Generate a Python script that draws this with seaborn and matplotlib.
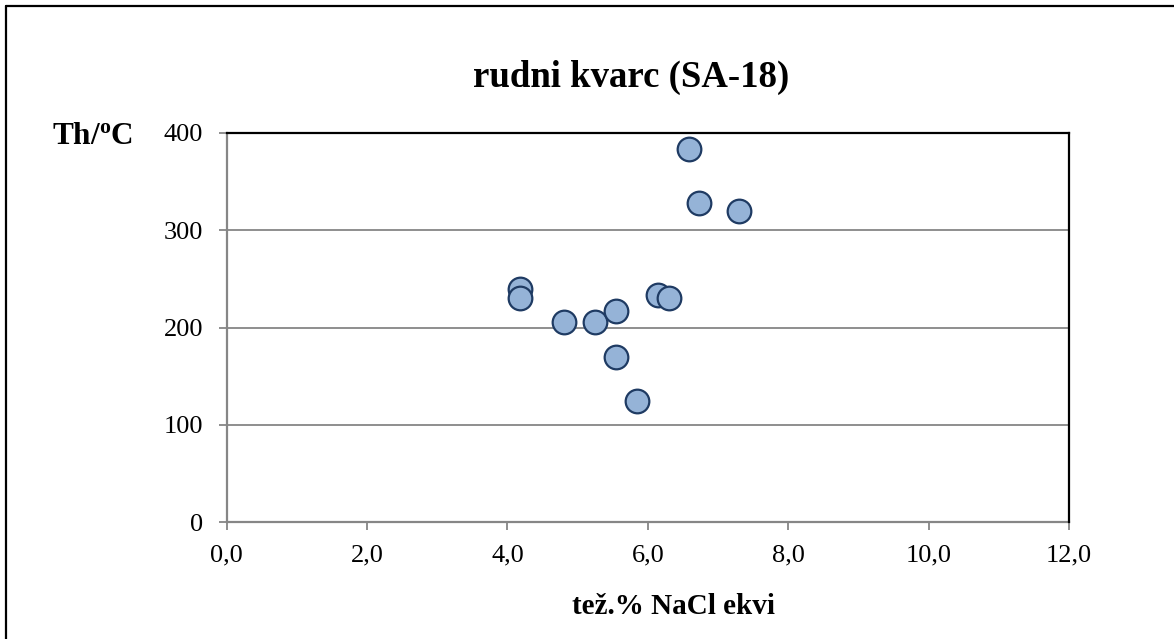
import matplotlib
matplotlib.use("Agg")
import matplotlib.pyplot as plt
import matplotlib.ticker as mticker
from matplotlib.lines import Line2D
import seaborn as sns
import pandas as pd

# Fluid inclusion data: salinity (wt.% NaCl eq.) vs homogenisation temperature
salinity = [4.18, 4.18, 4.80, 5.25, 5.55, 5.55, 5.85, 6.15, 6.30, 6.59, 6.73, 7.30]
th_temp = [240, 230, 206, 206, 217, 170, 125, 233, 230, 383, 328, 320]

x_ticks = [0, 2, 4, 6, 8, 10, 12]
y_ticks = [0, 100, 200, 300, 400]

title = "rudni kvarc (SA-18)"
x_label = "tež.% NaCl ekvi"
y_label = r"$\mathbf{Th/^{o}C}$"

sns.set_theme(style="white")
plt.rcParams["font.family"] = ["Liberation Serif", "DejaVu Serif"]
plt.rcParams["text.color"] = "black"
plt.rcParams["mathtext.fontset"] = "custom"
plt.rcParams["mathtext.rm"] = "Liberation Serif"
plt.rcParams["mathtext.bf"] = "Liberation Serif:bold"
plt.rcParams["mathtext.it"] = "Liberation Serif:italic"

df = pd.DataFrame({"x": salinity, "y": th_temp})

fig = plt.figure(figsize=(11.74, 6.39), dpi=100)
ax = fig.add_axes([226.7 / 1174, 1 - 522.3 / 639, (1069 - 226.7) / 1174, (522.3 - 132.7) / 639])

grey = "#868686"
ax.set_xlim(0, 12)
ax.set_ylim(0, 400)
ax.set_xticks(x_ticks)
ax.set_yticks(y_ticks)
ax.xaxis.set_major_formatter(mticker.FuncFormatter(lambda v, p: f"{v:.1f}".replace(".", ",")))
ax.yaxis.set_major_formatter(mticker.FuncFormatter(lambda v, p: f"{int(v)}"))

for v in y_ticks[1:-1]:
    ax.axhline(v, color=grey, lw=1.3, zorder=1)

sns.scatterplot(data=df, x="x", y="y", ax=ax, s=290, color="#95B3D7",
                edgecolor="#1F3B63", linewidth=1.6, zorder=3, legend=False)

for side in ["top", "right"]:
    ax.spines[side].set_color("black")
    ax.spines[side].set_linewidth(1.6)
for side in ["left", "bottom"]:
    ax.spines[side].set_color(grey)
    ax.spines[side].set_linewidth(1.6)
    ax.spines[side].set_zorder(2)

ax.tick_params(axis="both", which="major", direction="out", length=6, width=1.3,
               color=grey, labelsize=19, labelcolor="black", bottom=True, left=True)
ax.tick_params(axis="y", pad=11)
ax.tick_params(axis="x", pad=10)

ax.set_xlabel("")
ax.set_ylabel("")

fig.text(631 / 1174, 1 - 77 / 639, title, ha="center", va="center",
         fontsize=26.5, fontweight="bold", color="black")
fig.text(673 / 1174, 1 - 607 / 639, x_label, ha="center", va="center",
         fontsize=21, fontweight="bold", color="black")
fig.text(92 / 1174, 1 - 137 / 639, y_label, ha="center", va="center",
         fontsize=22.5, color="black")

# frame around the chart area
fig.add_artist(Line2D([6 / 1174, 6 / 1174], [0, 1 - 6 / 639], color="black", lw=1.6,
                      transform=fig.transFigure))
fig.add_artist(Line2D([6 / 1174, 1], [1 - 6 / 639, 1 - 6 / 639], color="black", lw=1.6,
                      transform=fig.transFigure))

fig.savefig("out.png", dpi=100, facecolor="white")
